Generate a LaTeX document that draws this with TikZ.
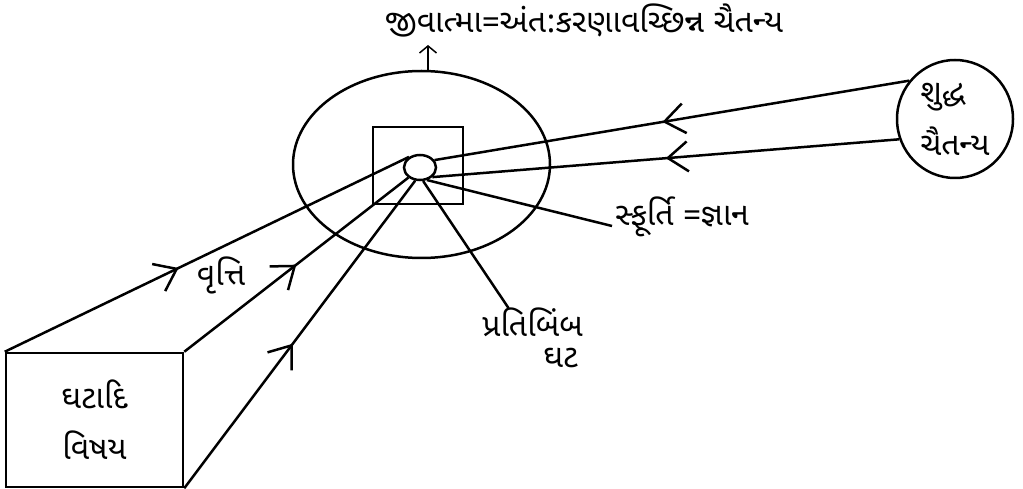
\documentclass[tikz,border=0pt]{standalone}
\usepackage{fontspec}
\newfontfamily\guj[Script=Gujarati]{Noto Sans Gujarati UI}
\usetikzlibrary{arrows.meta,shapes.geometric,decorations.markings}

\begin{document}
\begin{tikzpicture}[
  x=1pt,y=-1pt,
  line width=2.5pt,
  lbl/.style={font=\guj\fontsize{32}{36}\selectfont,inner sep=2pt},
  twoline/.style={font=\guj\fontsize{32}{#1}\selectfont},
  barb/.style={postaction={decorate},decoration={markings,
      mark=at position #1 with {\arrow{Straight Barb[length=20pt,width=30pt]}}}},
]
\useasboundingbox (0,0) rectangle (1023,489);

% antahkarana, pratibimba
\node[draw,ellipse,minimum width=257pt,minimum height=187pt,inner sep=0] (antah) at (421.5,164.5) {};
\node[draw,minimum width=90pt,minimum height=77pt,inner sep=0] (ghat) at (418,165.5) {};
\node[draw,ellipse,minimum width=32pt,minimum height=25pt,inner sep=0] (bimb) at (420,167.5) {};

% labels
\node[lbl,anchor=base] (jivlbl) at (584,33) {જીવાત્મા=અંત:કરણાવચ્છિન્ન ચૈતન્ય};
\coordinate (jivtip) at (428,45);
\node[lbl,anchor=base west] (sphurti) at (612,226) {સ્ફૂર્તિ =જ્ઞાન};
\node[lbl,inner sep=0,anchor=base east] (pratilbl) at (584,336) {પ્રતિબિંબ};
\node[lbl,inner sep=0,anchor=base east] (ghatlbl) at (579,367) {ઘટ};
\node[lbl] (vrtti) at (221,275) {વૃત્તિ};

% shuddha chaitanya, vishay
\node[draw,ellipse,minimum width=116pt,minimum height=118pt,inner sep=0,
      lbl,twoline=53,align=left] (shuddha) at (955,119) {શુદ્ધ\\ચૈતન્ય};
\node[draw,minimum width=177pt,minimum height=134pt,
      lbl,twoline=51,align=center] (vishay) at (94.5,420) {ઘટાદિ\\વિષય};

\draw[-{Straight Barb[length=7pt,width=17pt]},line width=1.5pt] (antah.north -| jivtip) -- (jivtip);

\draw[barb=0.52] (shuddha.140) -- (bimb.27);
\draw[barb=0.5] (shuddha.-160) -- (bimb.-38);
\draw (bimb.-61) -- (sphurti.base west);
\draw (bimb.-77) -- ([xshift=-24pt,yshift=-2pt]pratilbl.north);

\draw[barb=0.43] (vishay.north west) -- (bimb.136);
\draw[barb=0.5] (vishay.north east) -- (bimb.-139);
\draw[barb=0.47] (vishay.south east) -- (bimb.-110);
\end{tikzpicture}
\end{document}
